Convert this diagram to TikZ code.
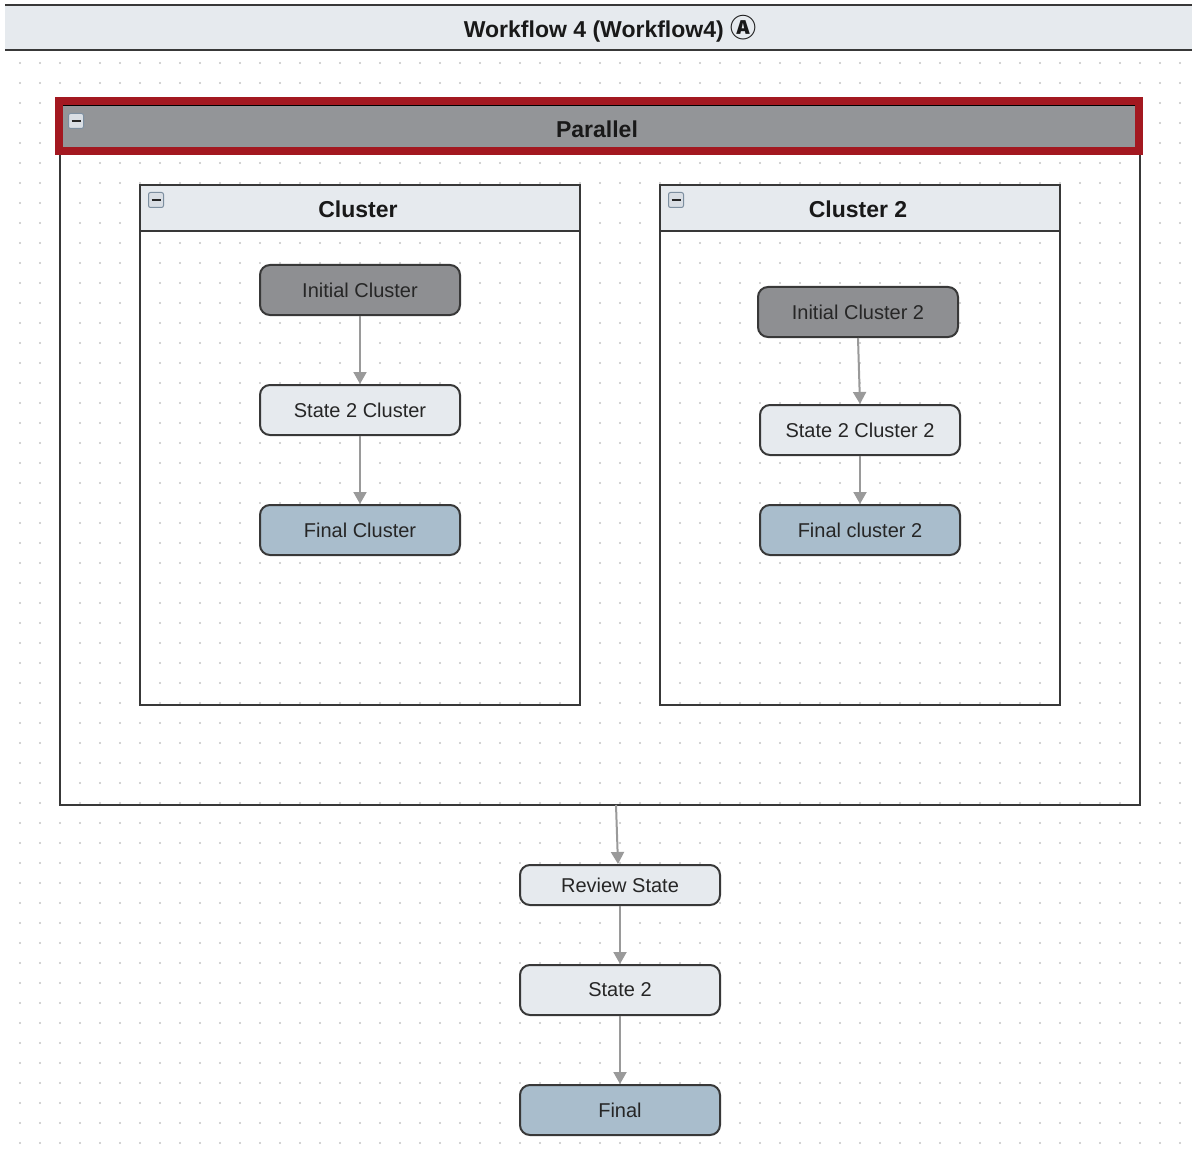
\documentclass[tikz,border=0pt]{standalone}
\usepackage{fontspec}
\setmainfont{Liberation Sans}
\newfontfamily\symfont{Noto Sans CJK SC}
\usetikzlibrary{arrows.meta}
\definecolor{hdr}{HTML}{E6EAEE}
\definecolor{darkst}{HTML}{8E8F92}
\definecolor{finst}{HTML}{A9BDCC}
\definecolor{parred}{HTML}{A31820}
\definecolor{pargray}{HTML}{939598}
\definecolor{edgec}{HTML}{383838}
\definecolor{arrc}{HTML}{9A9A9A}
\definecolor{dotc}{HTML}{C4C4C4}
\definecolor{iconb}{HTML}{7D8FA0}
\definecolor{iconf}{HTML}{D9DEE4}
\begin{document}
\begin{tikzpicture}[x=1pt,y=-1pt,
  statebox/.style={draw=edgec, line width=2pt, rounded corners=10pt,
    minimum width=200pt, minimum height=50pt, inner sep=0pt,
    font=\fontsize{20}{24}\selectfont, text=black!85},
  initst/.style={statebox, fill=darkst},
  midst/.style={statebox, fill=hdr},
  finalst/.style={statebox, fill=finst},
  flow/.style={draw=arrc, line width=2pt, -{Triangle[width=13pt,length=12pt]}},
  frame/.style={draw=edgec, line width=2pt},
  hdrtext/.style={font=\bfseries\fontsize{23}{27}\selectfont, text=black!90, inner sep=0pt},
  minusicon/.style={draw=iconb, fill=iconf, line width=1pt, rounded corners=2pt,
    minimum size=15pt, inner sep=0pt,
    path picture={\draw[black!85, line width=2.5pt]
      ([xshift=-4.5pt]path picture bounding box.center) --
      ([xshift=4.5pt]path picture bounding box.center);}}
]
\useasboundingbox (0,0) rectangle (1192,1161);
\fill[white] (0,0) rectangle (1192,1161);
% dot grid
\foreach \x in {20,40,...,1180}
  \foreach \y in {63,83,...,1143}
    \fill[dotc] (\x,\y) circle (1.1pt);
% title bar
\fill[hdr] (5,5) rectangle (1192,50);
\draw[edgec, line width=2.5pt] (5,5) -- (1192,5);
\draw[edgec, line width=2pt] (5,50) -- (1192,50);
\node[hdrtext, font=\bfseries\fontsize{23}{26}\selectfont] (title) at (610,29) {Workflow 4 (Workflow4) {\symfont\bfseries\fontsize{26}{26}\selectfont Ⓐ}};
% parallel
\draw[frame] (60,151) -- (60,805) -- (1140,805) -- (1140,151);
\fill[pargray] (59,101) rectangle (1139,151);
\draw[black, line width=1pt] (63,106) -- (1135,106);
\draw[parred, line width=8pt] (59,101) rectangle (1139,151);
\node[hdrtext] (partitle) at (597,129) {Parallel};
\node[minusicon] (pmin) at (76,121) {};
% cluster 1
\fill[hdr] (140,185) rectangle (580,231);
\draw[frame] (140,185) rectangle (580,705);
\draw[frame] (140,231) -- (580,231);
\node[hdrtext] (c1title) at (358,209) {Cluster};
\node[minusicon] (c1min) at (156,200) {};
% cluster 2
\fill[hdr] (660,185) rectangle (1060,231);
\draw[frame] (660,185) rectangle (1060,705);
\draw[frame] (660,231) -- (1060,231);
\node[hdrtext] (c2title) at (858,209) {Cluster 2};
\node[minusicon] (c2min) at (676,200) {};
% states cluster 1
\node[initst] (ic) at (360,290) {Initial Cluster};
\node[midst] (s2c) at (360,410) {State 2 Cluster};
\node[finalst] (fc) at (360,530) {Final Cluster};
% states cluster 2
\node[initst] (ic2) at (858,312) {Initial Cluster 2};
\node[midst] (s2c2) at (860,430) {State 2 Cluster 2};
\node[finalst] (fc2) at (860,530) {Final cluster 2};
% bottom states
\coordinate (pbot) at (616,805);
\node[midst, minimum height=40pt] (rs) at (620,885) {Review State};
\node[midst] (st2) at (620,990) {State 2};
\node[finalst] (fin) at (620,1110) {Final};
% connectors
\draw[flow] (ic.south) -- (s2c.north);
\draw[flow] (s2c.south) -- (fc.north);
\draw[flow] (ic2.south) -- (s2c2.north);
\draw[flow] (s2c2.south) -- (fc2.north);
\draw[flow] (pbot) -- ([xshift=-2pt]rs.north);
\draw[flow] (rs.south) -- (st2.north);
\draw[flow] (st2.south) -- (fin.north);
\end{tikzpicture}
\end{document}
